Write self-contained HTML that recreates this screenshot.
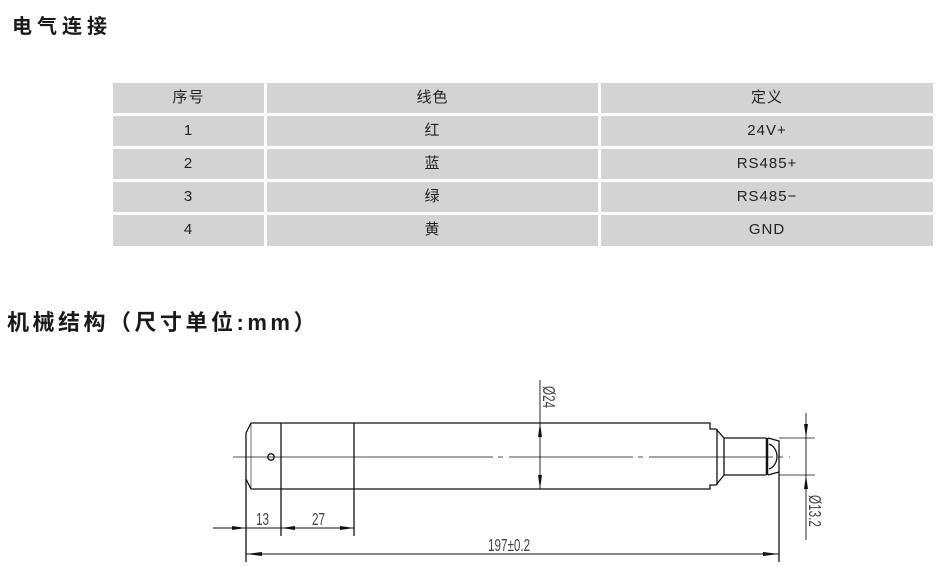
<!DOCTYPE html>
<html><head><meta charset="utf-8"><style>
html,body{margin:0;padding:0;background:#fff;width:951px;height:566px;overflow:hidden;position:relative;font-family:"Liberation Sans","Noto Sans CJK SC",sans-serif}
.h{position:absolute;font-weight:bold;color:#1a1a1a;font-size:20px;letter-spacing:5px;white-space:nowrap;font-family:"Liberation Sans","Noto Sans CJK SC",sans-serif}
.c{position:absolute;background:#d3d3d4;color:#222;font-size:15px;text-align:center;line-height:30px;letter-spacing:1px}
</style></head><body>
<div class="h" style="left:12px;top:10px;">电气连接</div>
<div class="h" style="left:7px;top:305px;font-size:22px;letter-spacing:3.5px;">机械结构（尺寸单位:mm）</div>

<div class="c" style="left:113px;top:83px;width:151px;height:30px">序号</div>
<div class="c" style="left:267px;top:83px;width:331px;height:30px">线色</div>
<div class="c" style="left:601px;top:83px;width:332px;height:30px">定义</div>
<div class="c" style="left:113px;top:116px;width:151px;height:30px">1</div>
<div class="c" style="left:267px;top:116px;width:331px;height:30px">红</div>
<div class="c" style="left:601px;top:116px;width:332px;height:30px">24V+</div>
<div class="c" style="left:113px;top:149px;width:151px;height:30px">2</div>
<div class="c" style="left:267px;top:149px;width:331px;height:30px">蓝</div>
<div class="c" style="left:601px;top:149px;width:332px;height:30px">RS485+</div>
<div class="c" style="left:113px;top:182px;width:151px;height:30px">3</div>
<div class="c" style="left:267px;top:182px;width:331px;height:30px">绿</div>
<div class="c" style="left:601px;top:182px;width:332px;height:30px">RS485−</div>
<div class="c" style="left:113px;top:215px;width:151px;height:31px">4</div>
<div class="c" style="left:267px;top:215px;width:331px;height:31px">黄</div>
<div class="c" style="left:601px;top:215px;width:332px;height:31px">GND</div>

<svg width="951" height="566" style="position:absolute;left:0;top:0" xmlns="http://www.w3.org/2000/svg">
<g stroke="#111" stroke-width="1.3" fill="none">
<path d="M251 423 L710 423 L710 429 L716 429 L724 438 L766 438"/>
<path d="M251 489 L710 489 L710 485 L716 485 L724 475 L766 475"/>
<path d="M251 423 L246 433 L246 479 L251 489"/>
<line x1="251" y1="423" x2="251" y2="489" stroke-width="0.6"/>
<line x1="717" y1="429" x2="717" y2="485"/>
<line x1="724" y1="438" x2="724" y2="475"/>
<line x1="767" y1="438" x2="767" y2="475" stroke-width="2.5"/>
<path d="M768 438 L779 441 L779 472 L768 475"/>
<path d="M769 444 A11 13 0 0 1 769 469"/>
<line x1="281" y1="423" x2="281" y2="536"/>
<line x1="354" y1="423" x2="354" y2="536"/>
<line x1="246" y1="479" x2="246" y2="562"/>
<line x1="779" y1="472" x2="779" y2="562"/>
<circle cx="271" cy="457" r="3.2"/>
<line x1="233" y1="457" x2="369" y2="457" stroke-width="0.8"/>
<line x1="369" y1="457" x2="790" y2="457" stroke-width="0.8" stroke-dasharray="124 5 5 6"/>
<line x1="213" y1="528" x2="354" y2="528" stroke-width="0.9"/>
<line x1="246" y1="554" x2="779" y2="554" stroke-width="0.9"/>
<line x1="540" y1="380" x2="540" y2="489" stroke-width="0.9"/>
<line x1="779" y1="438" x2="815" y2="438" stroke-width="0.8"/>
<line x1="779" y1="475" x2="815" y2="475" stroke-width="0.8"/>
<line x1="806" y1="413" x2="806" y2="540" stroke-width="0.9"/>
</g>
<g fill="#111">
<path d="M246 528 L232 526 L232 530Z"/>
<path d="M281 528 L295 526 L295 530Z"/>
<path d="M354 528 L340 526 L340 530Z"/>
<path d="M246 554 L262 552 L262 556Z"/>
<path d="M779 554 L763 552 L763 556Z"/>
<path d="M540 423 L538 437 L542 437Z"/>
<path d="M540 489 L538 475 L542 475Z"/>
<path d="M806 438 L804 424 L808 424Z"/>
<path d="M806 475 L804 489 L808 489Z"/>
</g>
<g fill="#444" font-family="Liberation Sans,sans-serif" font-size="18">
<text transform="translate(256,525) scale(0.65,1)">13</text>
<text transform="translate(312,525) scale(0.65,1)">27</text>
<text transform="translate(488,551) scale(0.65,1)">197±0.2</text>
<text transform="translate(543,386) rotate(90) scale(0.65,1)">Ø24</text>
<text transform="translate(809,495) rotate(90) scale(0.65,1)">Ø13.2</text>
</g>
</svg>
</body></html>
